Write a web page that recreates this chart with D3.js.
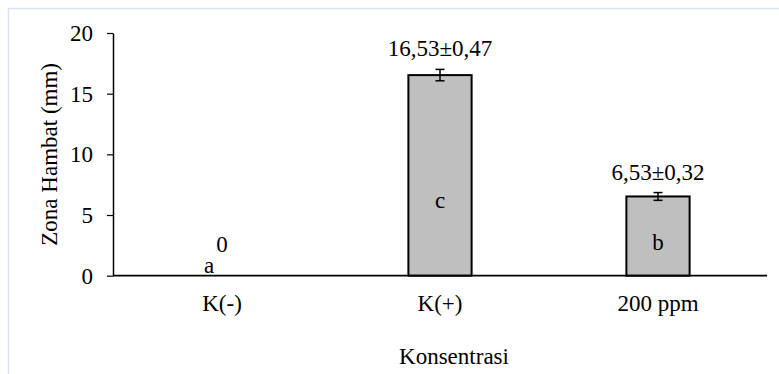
<!DOCTYPE html>
<html>
<head>
<meta charset="utf-8">
<script src="https://cdn.jsdelivr.net/npm/d3@7"></script>
<style>
  html, body { margin: 0; padding: 0; background: #fff; }
  svg { display: block; }
  svg text { font-family: "Liberation Serif", "Times New Roman", serif; }
</style>
</head>
<body>
<div id="chart"></div>
<script>
// data
const categories = ['K(-)', 'K(+)', '200 ppm'];
const values = [0, 16.53, 6.53];
const errors = [0, 0.47, 0.32];
const valueLabels = ['0', '16,53±0,47', '6,53±0,32'];
const letters = ['a', 'c', 'b'];
const yTicks = [0, 5, 10, 15, 20];

const W = 779, H = 374;
const FONT = '"Liberation Serif", "Times New Roman", serif';
const FS = 23;
const margin = { left: 113, right: 12, top: 33, bottom: 98 };

const svg = d3.select('#chart').append('svg')
  .attr('width', W).attr('height', H)
  .attr('font-family', FONT);

// chart frame (light blue, only top/left visible)
svg.append('rect')
  .attr('x', 8.5).attr('y', 8.5)
  .attr('width', W + 20).attr('height', H + 20)
  .attr('fill', 'none')
  .attr('stroke', '#d6e2f3')
  .attr('stroke-width', 1.5);

const x = d3.scaleBand()
  .domain(categories)
  .range([margin.left, W - margin.right])
  .paddingInner(0.71)
  .paddingOuter(0.355);

const y = d3.scaleLinear()
  .domain([0, 20])
  .range([H - margin.bottom - 0.3, margin.top]);

// bars
svg.selectAll('.bar')
  .data(values)
  .join('rect')
  .attr('class', 'bar')
  .attr('x', (d, i) => x(categories[i]))
  .attr('y', d => y(d))
  .attr('width', x.bandwidth())
  .attr('height', d => y(0) - y(d))
  .attr('fill', d => d > 0 ? '#bfbfbf' : 'none')
  .attr('stroke', d => d > 0 ? '#000' : 'none')
  .attr('stroke-width', 2);

// error bars
const eb = svg.selectAll('.err')
  .data(values.map((v, i) => ({ v, e: errors[i], c: categories[i] })).filter(d => d.e > 0))
  .join('g')
  .attr('class', 'err')
  .attr('stroke', '#000')
  .attr('stroke-width', 1.5);
eb.append('line')
  .attr('x1', d => x(d.c) + x.bandwidth() / 2)
  .attr('x2', d => x(d.c) + x.bandwidth() / 2)
  .attr('y1', d => y(d.v - d.e))
  .attr('y2', d => y(d.v + d.e));
eb.selectAll('.cap')
  .data(d => [d.v - d.e, d.v + d.e].map(t => ({ t, c: d.c })))
  .join('line')
  .attr('x1', d => x(d.c) + x.bandwidth() / 2 - 4.5)
  .attr('x2', d => x(d.c) + x.bandwidth() / 2 + 4.5)
  .attr('y1', d => y(d.t))
  .attr('y2', d => y(d.t));

// y axis
const yAxis = svg.append('g')
  .attr('transform', `translate(${margin.left},0)`)
  .call(d3.axisLeft(y).tickValues(yTicks).tickSize(6).tickPadding(14).tickSizeOuter(0));
yAxis.attr('font-family', FONT);
yAxis.select('.domain').attr('stroke', '#000').attr('stroke-width', 1.5);
yAxis.selectAll('.tick line').attr('stroke', '#000').attr('stroke-width', 1.2);
yAxis.selectAll('.tick text')
  .attr('font-family', FONT)
  .attr('font-size', FS)
  .attr('fill', '#000');

// x axis line
svg.append('line')
  .attr('x1', margin.left).attr('x2', W - margin.right)
  .attr('y1', y(0)).attr('y2', y(0))
  .attr('stroke', '#000').attr('stroke-width', 1.8);

// x category labels
svg.selectAll('.xlab')
  .data(categories)
  .join('text')
  .attr('class', 'xlab')
  .attr('x', d => x(d) + x.bandwidth() / 2)
  .attr('y', y(0) + 35)
  .attr('text-anchor', 'middle')
  .attr('font-size', FS)
  .text(d => d);

// value labels
svg.selectAll('.vlab')
  .data(values)
  .join('text')
  .attr('class', 'vlab')
  .attr('x', (d, i) => x(categories[i]) + x.bandwidth() / 2)
  .attr('y', (d, i) => y(d + errors[i]) - (d > 0 ? 13 : 24))
  .attr('text-anchor', 'middle')
  .attr('font-size', FS)
  .text((d, i) => valueLabels[i]);

// significance letters
svg.selectAll('.let')
  .data(values)
  .join('text')
  .attr('class', 'let')
  .attr('x', (d, i) => x(categories[i]) + x.bandwidth() / 2 + (d > 0 ? 0 : -13))
  .attr('y', d => d > 0 ? y(d * 0.34) + 1 : y(0) - 3)
  .attr('text-anchor', 'middle')
  .attr('font-size', FS)
  .text((d, i) => letters[i]);

// axis titles
svg.append('text')
  .attr('transform', `translate(52,${(y(0) + y(20)) / 2}) rotate(-90)`)
  .attr('text-anchor', 'middle')
  .attr('dominant-baseline', 'middle')
  .attr('font-size', FS)
  .text('Zona Hambat (mm)');

svg.append('text')
  .attr('x', (margin.left + W - margin.right) / 2 + 14)
  .attr('y', 364)
  .attr('text-anchor', 'middle')
  .attr('font-size', FS)
  .text('Konsentrasi');
</script>
</body>
</html>
